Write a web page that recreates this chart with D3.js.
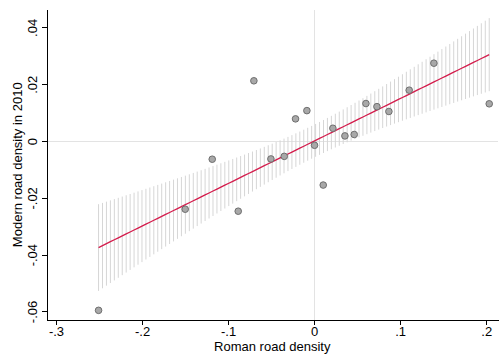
<!DOCTYPE html>
<meta charset="utf-8">
<style>
    body { margin: 0; background: #fff; }
    text { font-family: Arial, "Liberation Sans", sans-serif; font-size: 13px; fill: #000; }
    .axis path, .axis line { stroke: #000; stroke-width: 1px; shape-rendering: crispEdges; }
    .ref { stroke: #e3e3e3; stroke-width: 1px; shape-rendering: crispEdges; }
    .spikes line { stroke: #d6d6d6; stroke-width: 1px; }
    .fit { stroke: #d41c4c; stroke-width: 1.3px; fill: none; }
    .dots circle { fill: #a8a8a8; stroke: #6e6e6e; stroke-width: 1px; }
</style>
<svg width="504" height="362"></svg>
<script src="https://d3js.org/d3.v7.min.js"></script>
<script>

    // Roman road density (x) and modern road density in 2010 (y)
    var romanDensity = [-0.2505, -0.1498, -0.1184, -0.0882, -0.0700, -0.0216, -0.0084, -0.0502, -0.0347, 0.0005,
        0.0106, 0.0218, 0.0358, 0.0466, 0.0602, 0.0730, 0.0869, 0.1105, 0.1392, 0.2035];
    var modernDensity = [-0.0596, -0.0240, -0.0064, -0.0247, 0.0212, 0.0078, 0.0107, -0.0063, -0.0054, -0.0015,
        -0.0155, 0.0045, 0.0018, 0.0023, 0.0132, 0.0121, 0.0104, 0.0179, 0.0274, 0.0131];

    var xTicks = [-0.3, -0.2, -0.1, 0, 0.1, 0.2];
    var xTickLabels = ["-.3", "-.2", "-.1", "0", ".1", ".2"];
    var yTicks = [-0.06, -0.04, -0.02, 0, 0.02, 0.04];
    var yTickLabels = ["-.06", "-.04", "-.02", "0", ".02", ".04"];

    var svg = d3.select("svg");
    var plotLeft = 46.5, plotRight = 498, plotTop = 9.5, plotBottom = 320;

    var x = d3.scaleLinear().domain([-0.311, 0.2137]).range([plotLeft, plotRight]);
    var y = d3.scaleLinear().domain([-0.063, 0.0463]).range([plotBottom, plotTop]);

    // linear fit with 95% CI (as Stata lfitci, 100 points)
    var n = romanDensity.length,
        mx = d3.mean(romanDensity),
        my = d3.mean(modernDensity);
    var sxx = d3.sum(romanDensity, function (d) { return (d - mx) * (d - mx); });
    var sxy = d3.sum(romanDensity, function (d, i) { return (d - mx) * (modernDensity[i] - my); });
    var b = sxy / sxx, a = my - b * mx;
    var sse = d3.sum(romanDensity, function (d, i) {
        var e = modernDensity[i] - (a + b * d);
        return e * e;
    });
    var s = Math.sqrt(sse / (n - 2));
    var tval = 2.101; // t(0.975, 18)
    var ext = d3.extent(romanDensity);
    var grid = d3.range(100).map(function (i) {
        var xv = ext[0] + (ext[1] - ext[0]) * i / 99;
        var hw = tval * s * Math.sqrt(1 / n + (xv - mx) * (xv - mx) / sxx);
        var fit = a + b * xv;
        return { x: xv, fit: fit, lo: fit - hw, hi: fit + hw };
    });

    // reference lines at zero
    svg.append("line").attr("class", "ref")
        .attr("x1", Math.round(x(0)) + 0.5).attr("x2", Math.round(x(0)) + 0.5)
        .attr("y1", plotTop).attr("y2", plotBottom);
    svg.append("line").attr("class", "ref")
        .attr("x1", plotLeft).attr("x2", plotRight)
        .attr("y1", Math.round(y(0)) + 0.5).attr("y2", Math.round(y(0)) + 0.5);

    svg.append("g").attr("class", "spikes")
        .selectAll("line")
        .data(grid)
        .enter().append("line")
        .attr("x1", function (d) { return x(d.x); })
        .attr("x2", function (d) { return x(d.x); })
        .attr("y1", function (d) { return y(d.lo); })
        .attr("y2", function (d) { return y(d.hi); });

    svg.append("path").attr("class", "fit")
        .datum(grid)
        .attr("d", d3.line()
            .x(function (d) { return x(d.x); })
            .y(function (d) { return y(d.fit); }));

    svg.append("g").attr("class", "dots")
        .selectAll("circle")
        .data(romanDensity)
        .enter().append("circle")
        .attr("cx", function (d) { return x(d); })
        .attr("cy", function (d, i) { return y(modernDensity[i]); })
        .attr("r", 3.3);

    // axes
    var xAxis = svg.append("g").attr("class", "axis")
        .attr("transform", "translate(0," + plotBottom + ")")
        .call(d3.axisBottom(x).tickValues(xTicks).tickSize(5).tickSizeOuter(0)
            .tickFormat(function (d, i) { return xTickLabels[i]; }));
    xAxis.selectAll("text").attr("y", 16).attr("dy", 0).style("font-size", "13px");

    var yAxis = svg.append("g").attr("class", "axis")
        .attr("transform", "translate(" + plotLeft + ",0)")
        .call(d3.axisLeft(y).tickValues(yTicks).tickSize(5).tickSizeOuter(0)
            .tickFormat(function (d, i) { return yTickLabels[i]; }));
    yAxis.selectAll("text")
        .attr("transform", "rotate(-90)")
        .attr("x", 0).attr("y", -10).attr("dy", 0)
        .attr("text-anchor", "middle")
        .style("font-size", "13px");

    svg.selectAll(".axis text").attr("fill", "#000").style("font-family", "Arial, 'Liberation Sans', sans-serif");

    svg.append("text")
        .attr("x", (plotLeft + plotRight) / 2)
        .attr("y", 351)
        .attr("text-anchor", "middle")
        .text("Roman road density");

    svg.append("text")
        .attr("transform", "translate(21.5," + ((plotTop + plotBottom) / 2) + ") rotate(-90)")
        .attr("text-anchor", "middle")
        .text("Modern road density in 2010");

</script>
